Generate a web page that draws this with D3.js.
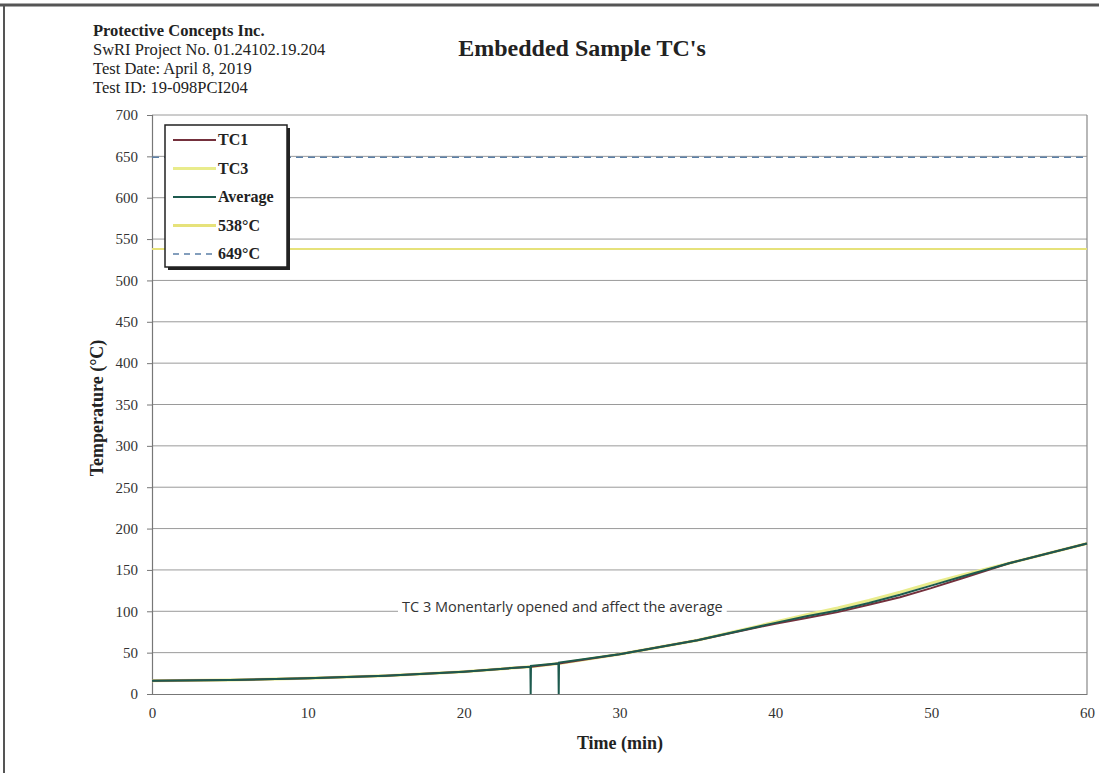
<!DOCTYPE html>
<html>
<head>
<meta charset="utf-8">
<script src="https://cdn.jsdelivr.net/npm/d3@7"></script>
<style>
  body { margin: 0; background: #fff; }
  svg { display: block; }
</style>
</head>
<body>
<svg id="chart" width="1099" height="773"></svg>
<script>
// data
var time    = [0, 5, 10, 15, 20, 24.28, 24.3, 24.32, 26.08, 26.1, 26.12, 30, 35, 40, 42, 44, 46, 48, 50, 52, 55, 60]
var tc1     = [16, 17, 19, 22, 27, 33, 33, 33, 37, 37, 37, 48, 65, 85, 92, 99, 108, 117, 128, 140, 158, 182]
var tc3     = [16, 17, 19, 22, 27, 33, 33, 33, 37, 37, 37, 48, 65, 87, 96, 104, 113, 123, 134, 144, 158, 182]
var average = [16, 17, 19, 22, 27, 33, 0, 34, 37, 0, 38, 48, 65, 86, 94, 101, 110, 120, 131, 142, 158, 182]
var limit538 = 538
var limit649 = 649
var xTicks = [0, 10, 20, 30, 40, 50, 60]
var yTicks = [0, 50, 100, 150, 200, 250, 300, 350, 400, 450, 500, 550, 600, 650, 700]
var headerLines = ["Protective Concepts Inc.", "SwRI Project No. 01.24102.19.204", "Test Date:  April 8, 2019", "Test ID: 19-098PCI204"]

var svg = d3.select("#chart")
var serif = "'Liberation Serif', 'Times New Roman', serif"

// scanned page frame
svg.append("line").attr("x1", 0).attr("x2", 1099).attr("y1", 5).attr("y2", 5)
    .style("stroke", "#555").style("stroke-width", 3)
svg.append("line").attr("x1", 4).attr("x2", 4).attr("y1", 5).attr("y2", 773)
    .style("stroke", "#555").style("stroke-width", 2)

var x = d3.scaleLinear().domain([0, 60]).range([152, 1087])
var y = d3.scaleLinear().domain([0, 700]).range([694, 115])

// gridlines
svg.append("g").selectAll("line")
    .data(yTicks.filter(d => d > 0))
    .enter().append("line")
    .attr("x1", x(0)).attr("x2", x(60))
    .attr("y1", d => y(d)).attr("y2", d => y(d))
    .style("stroke", "#9a9a9a").style("stroke-width", 1)

// right border of plot area
svg.append("line").attr("x1", x(60)).attr("x2", x(60)).attr("y1", y(700)).attr("y2", y(0))
    .style("stroke", "#888").style("stroke-width", 1.2)

// axes
var yAxis = d3.axisLeft(y).tickValues(yTicks).tickSize(5).tickPadding(9)
var gy = svg.append("g").attr("transform", "translate(" + x(0) + ",0)").call(yAxis)
var xAxis = d3.axisBottom(x).tickValues(xTicks).tickSize(0).tickPadding(13)
var gx = svg.append("g").attr("transform", "translate(0," + y(0) + ")").call(xAxis)
svg.selectAll(".domain").style("stroke", "#777").style("stroke-width", 1.2)
svg.selectAll(".tick line").style("stroke", "#777")
svg.selectAll(".tick text").style("font-family", serif).style("font-size", "15px")
    .style("fill", "#333")

// limit lines
svg.append("line").attr("x1", x(0)).attr("x2", x(60))
    .attr("y1", y(limit538)).attr("y2", y(limit538))
    .style("stroke", "#e6e27a").style("stroke-width", 2)
svg.append("line").attr("x1", x(0)).attr("x2", x(60))
    .attr("y1", y(limit649)).attr("y2", y(limit649))
    .style("stroke", "#5b7fa6").style("stroke-width", 1.5)
    .style("stroke-dasharray", "7,5")

// series
var line = d3.line()
    .x((d, i) => x(time[i]))
    .y(d => y(d))

svg.append("path").datum(tc3).attr("d", line)
    .style("fill", "none").style("stroke", "#e9ec8c").style("stroke-width", 3)
svg.append("path").datum(tc1).attr("d", line)
    .style("fill", "none").style("stroke", "#74303c").style("stroke-width", 2)
svg.append("path").datum(average).attr("d", line)
    .style("fill", "none").style("stroke", "#1d5a4e").style("stroke-width", 2)

// annotation, in a white text box that hides the gridline behind it
var note = svg.append("g")
var noteText = note.append("text").attr("x", 402).attr("y", 612)
    .text("TC 3 Monentarly opened and affect the average")
    .style("font-family", "'Open Sans', sans-serif").style("font-size", "14.5px")
    .style("fill", "#333")
var bb = noteText.node().getBBox()
note.insert("rect", "text")
    .attr("x", bb.x - 4).attr("y", bb.y - 2)
    .attr("width", bb.width + 8).attr("height", bb.height + 4)
    .style("fill", "#fff")

// header text
svg.append("g").selectAll("text")
    .data(headerLines)
    .enter().append("text")
    .attr("x", 93)
    .attr("y", (d, i) => 36 + i * 19)
    .text(d => d)
    .style("font-family", serif)
    .style("font-size", "16.5px")
    .style("font-weight", (d, i) => i == 0 ? "bold" : "normal")
    .style("fill", "#222")

// title
svg.append("text").attr("x", 582).attr("y", 56).attr("text-anchor", "middle")
    .text("Embedded Sample TC's")
    .style("font-family", serif).style("font-size", "24px").style("font-weight", "bold")
    .style("fill", "#222")

// axis titles
svg.append("text").attr("x", 620).attr("y", 749).attr("text-anchor", "middle")
    .text("Time (min)")
    .style("font-family", serif).style("font-size", "18px").style("font-weight", "bold")
    .style("fill", "#222")
svg.append("text")
    .attr("transform", "translate(103,408) rotate(-90)")
    .attr("text-anchor", "middle")
    .text("Temperature (°C)")
    .style("font-family", serif).style("font-size", "18px").style("font-weight", "bold")
    .style("fill", "#222")

// legend
var legendItems = [
    {name: "TC1", color: "#74303c", dash: null, w: 2},
    {name: "TC3", color: "#e9ec8c", dash: null, w: 3},
    {name: "Average", color: "#1d5a4e", dash: null, w: 2},
    {name: "538°C", color: "#e6e27a", dash: null, w: 3},
    {name: "649°C", color: "#5b7fa6", dash: "6,5", w: 1.5}
]
var lg = svg.append("g")
lg.append("rect").attr("x", 168).attr("y", 128).attr("width", 122).attr("height", 142)
    .style("fill", "#222")
lg.append("rect").attr("x", 165).attr("y", 125).attr("width", 122).attr("height", 142)
    .style("fill", "#fff").style("stroke", "#222").style("stroke-width", 1.5)
var li = lg.selectAll(".item").data(legendItems).enter().append("g")
    .attr("transform", (d, i) => "translate(0," + (140 + i * 28.5) + ")")
li.append("line").attr("x1", 173).attr("x2", 216)
    .style("stroke", d => d.color).style("stroke-width", d => d.w)
    .style("stroke-dasharray", d => d.dash)
li.append("text").attr("x", 218).attr("y", 5).text(d => d.name)
    .style("font-family", serif).style("font-size", "16px").style("font-weight", "bold")
    .style("fill", "#222")
</script>
</body>
</html>
